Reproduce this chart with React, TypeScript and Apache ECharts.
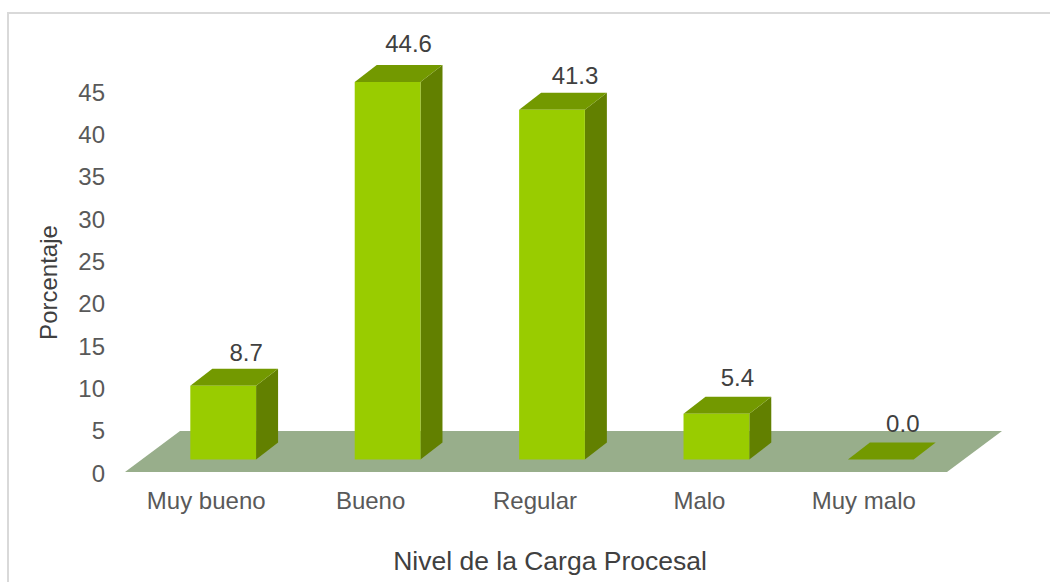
import React, { useEffect, useRef } from "react";
import * as echarts from "echarts";

const categories = ["Muy bueno", "Bueno", "Regular", "Malo", "Muy malo"];
const values = [8.7, 44.6, 41.3, 5.4, 0.0];
const yTicks = { min: 0, max: 45, interval: 5 };
const yName = "Porcentaje";
const xName = "Nivel de la Carga Procesal";

const labelNudgeX = [1, -1, 1, -1, 0];
const labelNudgeY = [4, -1, 3, 1, 1];

const FONT = '"Liberation Sans", Arial, sans-serif';
const DX = 22;
const DY = -17;
const LIFT = 13.5;
const SHIFT = 17;

export default function App() {
  const ref = useRef<HTMLDivElement>(null);
  useEffect(() => {
    const chart = echarts.init(ref.current!, undefined, { renderer: "svg" });
    chart.setOption({
      animation: false,
      backgroundColor: "#ffffff",
      graphic: [
        {
          type: "polyline",
          silent: true,
          shape: { points: [[8, 582], [8, 13], [1050, 13]] },
          style: { stroke: "#d9d9d9", lineWidth: 2, fill: "none" },
        },
      ],
      grid: { left: 124, top: 92, width: 822, height: 381, containLabel: false },
      xAxis: {
        type: "category",
        data: categories,
        axisLine: { show: false },
        axisTick: { show: false },
        axisLabel: { color: "#595959", fontSize: 24, fontFamily: FONT, margin: 15 },
        name: xName,
        nameLocation: "middle",
        nameGap: 74,
        nameTextStyle: { color: "#404040", fontSize: 26.5, fontFamily: FONT, padding: [0, 0, 0, 30] },
      },
      yAxis: {
        type: "value",
        min: yTicks.min,
        max: yTicks.max,
        interval: yTicks.interval,
        splitLine: { show: false },
        axisLine: { show: false },
        axisTick: { show: false },
        axisLabel: { color: "#595959", fontSize: 24, fontFamily: FONT, margin: 19, padding: [0, 0, 2, 0] },
        name: yName,
        nameLocation: "middle",
        nameGap: 64,
        nameTextStyle: { color: "#404040", fontSize: 24, fontFamily: FONT },
      },
      series: [
        {
          type: "custom",
          silent: true,
          z: 1,
          data: [0],
          renderItem: (params: any) => {
            const r = params.coordSys;
            const b = r.y + r.height - 1;
            return {
              type: "polygon",
              shape: {
                points: [
                  [r.x + 1, b],
                  [r.x + 56, b - 41],
                  [r.x + r.width + 56, b - 41],
                  [r.x + r.width + 1, b],
                ],
              },
              style: { fill: "#98ae8b" },
            };
          },
        },
        {
          type: "custom",
          silent: true,
          z: 2,
          data: values.map((v, i) => [i, v]),
          renderItem: (_: any, api: any) => {
            const i = api.value(0);
            const v = api.value(1);
            const top = api.coord([i, v]);
            const base = api.coord([i, 0]);
            const w = api.size([1, 0])[0] * 0.4;
            const x0 = top[0] + SHIFT - w / 2;
            const x1 = x0 + w;
            const yt = top[1] - LIFT;
            const yb = base[1] - LIFT;
            const poly = (points: number[][], fill: string) => ({
              type: "polygon",
              shape: { points },
              style: { fill },
            });
            return {
              type: "group",
              children: [
                poly([[x1, yt], [x1 + DX, yt + DY], [x1 + DX, yb + DY], [x1, yb]], "#628000"),
                poly([[x0, yt], [x0 + DX, yt + DY], [x1 + DX, yt + DY], [x1, yt]], "#739900"),
                poly([[x0, yt], [x1, yt], [x1, yb], [x0, yb]], "#99cc00"),
                {
                  type: "text",
                  style: {
                    text: v.toFixed(1),
                    x: top[0] + SHIFT + DX + labelNudgeX[i],
                    y: yt + DY - 20 + labelNudgeY[i],
                    align: "center",
                    verticalAlign: "middle",
                    fill: "#404040",
                    font: `24px ${FONT}`,
                  },
                },
              ],
            };
          },
        },
      ],
    });
    return () => chart.dispose();
  }, []);
  return (
    <div
      ref={ref}
      style={{ position: "absolute", left: 0, top: 0, width: 1050, height: 582 }}
    />
  );
}
